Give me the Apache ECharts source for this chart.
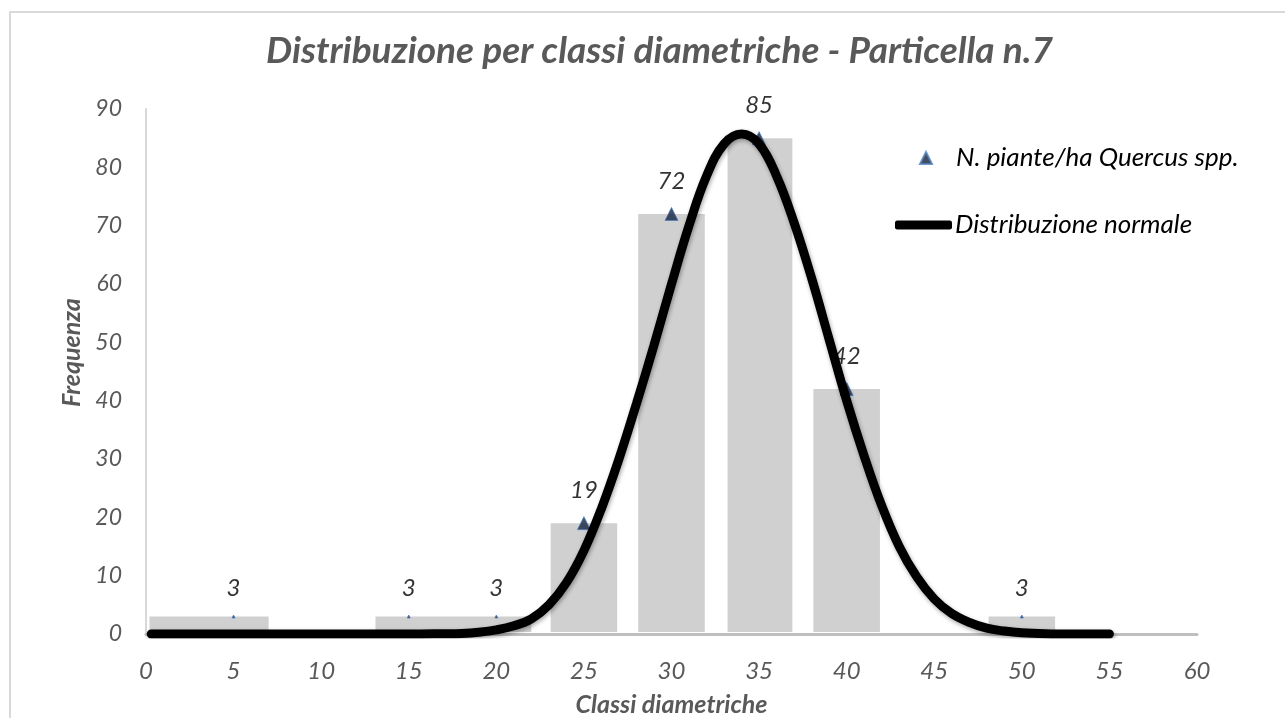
<!DOCTYPE html>
<html>
<head>
<meta charset="utf-8">
<script src="https://cdn.jsdelivr.net/npm/echarts@6/dist/echarts.min.js"></script>
<style>
  html, body { margin: 0; padding: 0; background: #fff; overflow: hidden; }
  #chart { position: absolute; left: 0; top: 0; width: 1285px; height: 718px; }
  #frame { position: absolute; left: 9px; top: 11px; width: 1290px; height: 720px;
           border: 2px solid #d9d9d9; pointer-events: none; }
</style>
</head>
<body>
<div id="chart"></div>
<div id="frame"></div>
<script>
// classi diametriche e numero di piante/ha
var classi = [5, 15, 20, 25, 30, 35, 40, 50];
var piante = [3, 3, 3, 19, 72, 85, 42, 3];

// barre grigie: estremi sinistro/destro (in cm) e altezza
var barreDa = [0.2, 13.1, 23.1, 28.1, 33.2, 38.1, 48.1];
var barreA = [7.0, 22.0, 26.9, 31.9, 36.9, 41.9, 51.9];
var barreAltezza = [3, 3, 19, 72, 85, 42, 3];

// curva della distribuzione normale
var normaleX = [0.3, 4, 8, 12, 15, 17, 18, 19, 20, 21, 22, 23, 24, 25, 26, 27, 28, 29, 30, 31, 32, 33, 34,
                35, 36, 37, 38, 39, 40, 41, 42, 43, 44, 45, 46, 47, 48, 49, 50, 51, 52, 55];
var normaleY = [0, 0, 0, 0, 0, 0.05, 0.1, 0.3, 0.7, 1.4, 2.6, 5, 8.8, 14.3, 21.5, 30, 39.5, 49.5, 60, 70, 78.5, 84, 85.7,
                84, 78.5, 70.5, 61, 50.5, 40, 30.5, 22, 15, 9.8, 6, 3.5, 2, 1, 0.5, 0.2, 0.1, 0, 0];

// assi
var xMin = 0, xMax = 60, xPasso = 5;
var yMin = 0, yMax = 90, yPasso = 10;

var font = 'Lato, "Open Sans", sans-serif';
var grigio = '#595959';

function chart() {
    var dom = document.getElementById('chart');
    var myChart = echarts.init(dom, null, { renderer: 'canvas' });

    var puntiScatter = classi.map(function (c, i) { return [c, piante[i]]; });
    var barre = barreDa.map(function (d, i) { return [d, barreA[i], barreAltezza[i]]; });
    var curva = normaleX.map(function (x, i) { return [x, normaleY[i]]; });

    var option = {
        animation: false,
        title: {
            text: 'Distribuzione per classi diametriche - Particella n.7',
            left: 266,
            top: 33,
            padding: 0,
            textStyle: {
                color: grigio,
                fontFamily: font,
                fontStyle: 'italic',
                fontWeight: 'bold',
                fontSize: 37
            }
        },
        legend: [{
            data: ['N. piante/ha Quercus spp.'],
            left: 919,
            top: 145,
            padding: 0,
            icon: 'triangle',
            itemWidth: 12,
            itemHeight: 12,
            textStyle: {
                color: '#000',
                fontFamily: font,
                fontStyle: 'italic',
                fontSize: 26,
                padding: [0, 0, 0, 19]
            }
        }, {
            data: ['Distribuzione normale'],
            left: 895,
            top: 212,
            padding: 0,
            icon: 'roundRect',
            itemWidth: 57,
            itemHeight: 9,
            textStyle: {
                color: '#000',
                fontFamily: font,
                fontStyle: 'italic',
                fontSize: 26,
                padding: [0, 0, 0, -2]
            }
        }],
        grid: {
            left: 146,
            right: 88,
            top: 109,
            bottom: 84,
            outerBoundsMode: 'none'
        },
        xAxis: {
            type: 'value',
            min: xMin,
            max: xMax,
            interval: xPasso,
            offset: 9,
            name: 'Classi diametriche',
            nameLocation: 'middle',
            nameGap: 49,
            nameTextStyle: {
                color: grigio,
                fontFamily: font,
                fontStyle: 'italic',
                fontWeight: 'bold',
                fontSize: 25
            },
            axisLine: { show: true, lineStyle: { color: '#bfbfbf', width: 3 } },
            axisTick: { show: false },
            splitLine: { show: false },
            axisLabel: {
                margin: 16,
                color: grigio,
                fontFamily: font,
                fontStyle: 'italic',
                fontSize: 24
            }
        },
        yAxis: {
            type: 'value',
            min: yMin,
            max: yMax,
            interval: yPasso,
            name: 'Frequenza',
            nameLocation: 'middle',
            nameGap: 56,
            nameTextStyle: {
                color: grigio,
                fontFamily: font,
                fontStyle: 'italic',
                fontWeight: 'bold',
                fontSize: 25,
                padding: [0, 0, 0, 38]
            },
            axisLine: { show: true, lineStyle: { color: '#d9d9d9', width: 2 } },
            axisTick: { show: false },
            splitLine: { show: false },
            axisLabel: {
                margin: 24,
                color: grigio,
                fontFamily: font,
                fontStyle: 'italic',
                fontSize: 23
            }
        },
        series: [{
            name: 'barre',
            type: 'custom',
            z: 1,
            data: barre,
            encode: { x: [0, 1], y: 2 },
            renderItem: function (params, api) {
                var p0 = api.coord([api.value(0), api.value(2)]);
                var p1 = api.coord([api.value(1), 0]);
                return {
                    type: 'rect',
                    shape: { x: p0[0], y: p0[1], width: p1[0] - p0[0], height: p1[1] - p0[1] - 2 },
                    style: { fill: '#d0d0d0' }
                };
            }
        }, {
            name: 'N. piante/ha Quercus spp.',
            type: 'scatter',
            z: 2,
            data: puntiScatter,
            symbol: 'triangle',
            symbolSize: function (v) { return v[1] < 5 ? 3 : 13; },
            itemStyle: { color: '#14213d', borderColor: '#4f81bd', borderWidth: 1 },
            label: {
                show: true,
                position: 'top',
                distance: 14,
                color: '#000',
                fontFamily: font,
                fontStyle: 'italic',
                fontSize: 24,
                formatter: function (p) { return p.value[1]; }
            }
        }, {
            name: 'Distribuzione normale',
            type: 'line',
            z: 3,
            data: curva,
            smooth: 0.4,
            showSymbol: false,
            itemStyle: { color: '#000' },
            lineStyle: {
                color: '#000',
                width: 9,
                cap: 'round',
                shadowColor: 'rgba(0,0,0,0.35)',
                shadowBlur: 4,
                shadowOffsetX: 1,
                shadowOffsetY: 2
            }
        }]
    };

    myChart.setOption(option, true);
}
chart();
</script>
</body>
</html>
